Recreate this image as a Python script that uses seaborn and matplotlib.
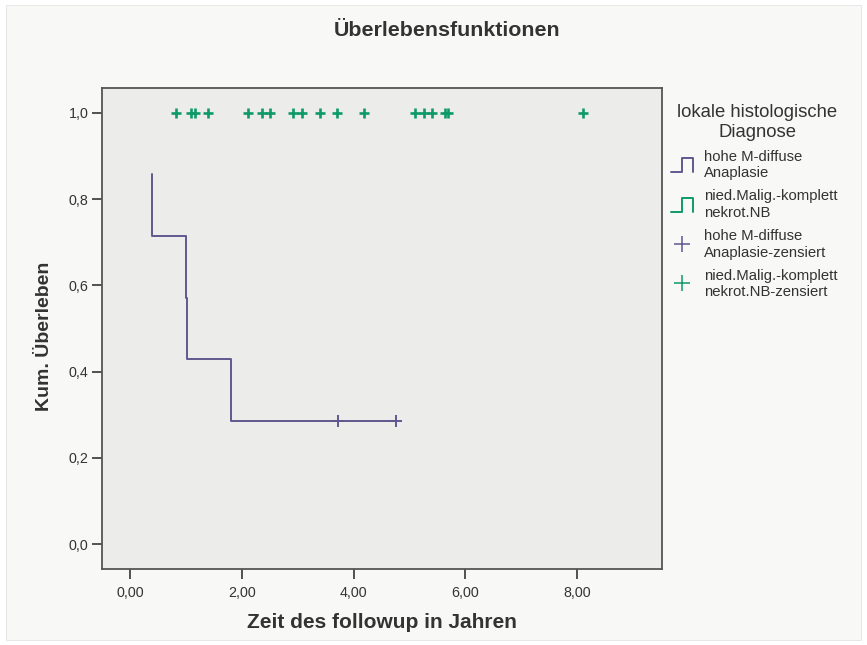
import numpy as np
import pandas as pd
import matplotlib
matplotlib.use("Agg")
import matplotlib.pyplot as plt
import seaborn as sns
from matplotlib.lines import Line2D
from matplotlib.patches import Rectangle
from matplotlib.legend_handler import HandlerBase
from matplotlib.ticker import FuncFormatter

# ---------------- data ----------------
hohe_time = [0.39, 0.39, 1.00, 1.02, 1.80, 3.72, 4.75]
hohe_surv = [0.857, 0.714, 0.571, 0.429, 0.286, 0.286, 0.286]
hohe_cens_time = [3.72, 4.75]
hohe_cens_surv = [0.286, 0.286]
nied_cens_time = [0.82, 1.10, 1.16, 1.40, 2.11, 2.36, 2.50, 2.91, 3.08, 3.40,
                  3.71, 4.18, 5.10, 5.26, 5.40, 5.64, 5.69, 8.10]
nied_cens_surv = [1.0] * len(nied_cens_time)

x_ticks = [0, 2, 4, 6, 8]
y_ticks = [0.0, 0.2, 0.4, 0.6, 0.8, 1.0]
legend_labels = ["hohe M-diffuse\nAnaplasie",
                 "nied.Malig.-komplett\nnekrot.NB",
                 "hohe M-diffuse\nAnaplasie-zensiert",
                 "nied.Malig.-komplett\nnekrot.NB-zensiert"]

PURPLE = "#5f588f"
GREEN = "#0e9a68"
TXT = "#333333"

sns.set_style("ticks")
plt.rcParams["font.family"] = ["Liberation Sans", "DejaVu Sans"]

fig = plt.figure(figsize=(8.67, 6.45), dpi=100, facecolor="white")
# light page background
fig.patches.append(Rectangle((6 / 867, 5 / 645), 855 / 867, 635 / 645,
                             transform=fig.transFigure, facecolor="#f8f8f6",
                             edgecolor="#e4e4e2", lw=0.6, zorder=-10))

ax = fig.add_axes([101.7 / 867, 1 - 568.7 / 645, 560 / 867, 480.4 / 645])
ax.set_facecolor("#ececea")

df_h = pd.DataFrame({"t": hohe_time, "s": hohe_surv})
sns.lineplot(data=df_h, x="t", y="s", ax=ax, estimator=None, sort=False,
             drawstyle="steps-post", color=PURPLE, lw=1.4)
sns.scatterplot(x=hohe_cens_time, y=hohe_cens_surv, ax=ax, marker="+",
                s=80, color=PURPLE, linewidth=1.4, zorder=3)
sns.scatterplot(x=nied_cens_time, y=nied_cens_surv, ax=ax, marker="+",
                s=55, color=GREEN, linewidth=1.9, zorder=3)

ax.set_xlim(-0.506, 9.51)
ax.set_ylim(-0.0565, 1.0566)
ax.set_xticks(x_ticks)
ax.set_yticks(y_ticks)
ax.xaxis.set_major_formatter(FuncFormatter(lambda v, p: f"{v:.2f}".replace(".", ",")))
ax.yaxis.set_major_formatter(FuncFormatter(lambda v, p: f"{v:.1f}".replace(".", ",")))
ax.tick_params(axis="both", direction="out", length=7.5, width=1.3,
               color="#444444", labelsize=10.3, labelcolor=TXT)
ax.tick_params(axis="x", pad=5)
ax.tick_params(axis="y", pad=2)
for sp in ax.spines.values():
    sp.set_visible(True)
    sp.set_color("#555555")
    sp.set_linewidth(1.3)

ax.set_xlabel("Zeit des followup in Jahren", fontsize=15, fontweight="bold",
              color=TXT, labelpad=9)
ax.set_ylabel("Kum. Überleben", fontsize=14, fontweight="bold", color=TXT)
ax.yaxis.label.set_va("center")
ax.yaxis.set_label_coords((44.5 - 101.7) / 560, (568.7 - 336) / 480.4)

fig.text(447 / 867, 1 - 30 / 645, "Überlebensfunktionen", ha="center",
         va="center", fontsize=15.4, fontweight="bold", color=TXT)


class StepHandler(HandlerBase):
    def create_artists(self, legend, orig_handle, xdescent, ydescent,
                       width, height, fontsize, trans):
        x0, y0 = -xdescent, -ydescent
        xs = x0 + width * np.array([0, 0.5, 0.5, 1, 1])
        ys = y0 + height * np.array([0, 0, 1, 1, 0])
        ln = Line2D(xs, ys, color=orig_handle.get_color(),
                    lw=orig_handle.get_linewidth(), transform=trans)
        return [ln]


h1 = Line2D([], [], color=PURPLE, lw=1.4)
h2 = Line2D([], [], color=GREEN, lw=1.4)
h3 = Line2D([], [], ls="none", marker="+", color=PURPLE, ms=11, mew=1.1)
h4 = Line2D([], [], ls="none", marker="+", color=GREEN, ms=11, mew=1.1)

leg = fig.legend([h1, h2, h3, h4], legend_labels,
                 handler_map={h1: StepHandler(), h2: StepHandler()},
                 loc="upper left", bbox_to_anchor=(671 / 867, 1 - 104 / 645),
                 frameon=False, fontsize=10.7, title="lokale histologische\nDiagnose",
                 title_fontsize=13.3, handlelength=1.5, handleheight=1.1,
                 handletextpad=0.72, labelspacing=0.6, borderpad=0,
                 borderaxespad=0, alignment="right")
leg.get_title().set_multialignment("center")
leg.get_title().set_color(TXT)
for t in leg.get_texts():
    t.set_color(TXT)
    t.set_linespacing(1.25)

fig.savefig("out.png", dpi=100, facecolor=fig.get_facecolor())
